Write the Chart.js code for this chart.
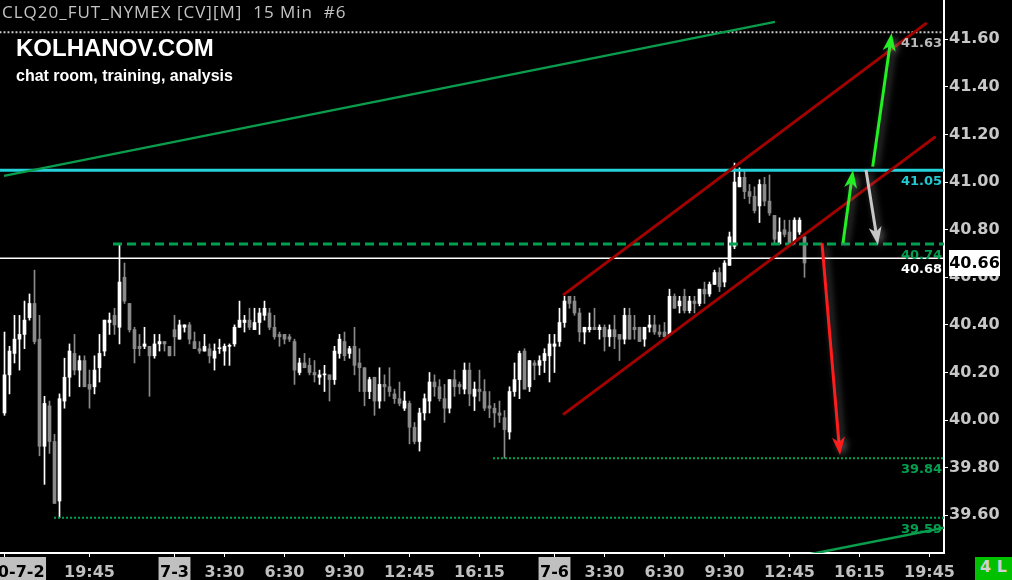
<!DOCTYPE html>
<html>
<head>
<meta charset="utf-8">
<script src="https://cdn.jsdelivr.net/npm/chart.js@4.4.0/dist/chart.umd.min.js"></script>
<style>
  html, body { margin: 0; padding: 0; background: #000; }
  #wrap { position: relative; width: 1012px; height: 580px; overflow: hidden; background: #000; }
  #wrap canvas { position: absolute; left: 0; top: 0; }
  .txt { position: absolute; white-space: pre; z-index: 2; }
  #title { left: 2px; top: 0px; color: #c4c4c4; font: 17px "Open Sans", sans-serif; letter-spacing: 1px; }
  #brand { left: 16px; top: 34px; color: #fff; font: bold 24px "Liberation Sans", Arial, sans-serif; }
  #sub { left: 16px; top: 67px; color: #fff; font: bold 16px "Liberation Sans", Arial, sans-serif; }
  #mode { left: 975px; top: 557px; width: 37px; height: 23px; line-height: 24px; text-align: center;
          background: #00c000; color: #d0d0d0; font: bold 16px "DejaVu Sans", sans-serif; }
</style>
</head>
<body>
<div id="wrap">
  <canvas id="chart" width="1012" height="580"></canvas>
  <div class="txt" id="title">CLQ20_FUT_NYMEX [CV][M]  15 Min  #6</div>
  <div class="txt" id="brand">KOLHANOV.COM</div>
  <div class="txt" id="sub">chat room, training, analysis</div>
  <div class="txt" id="mode">4 L</div>
</div>
<script>
// 15 min bars, CL 2020-07-02 15:30 .. 2020-07-06 13:00
const open = [
  40.03,40.19,40.28,40.34,40.36,40.43,40.49,40.34,39.89,40.06,
  39.91,39.66,40.08,40.18,40.28,40.21,40.25,40.15,40.14,40.22,
  40.29,40.41,40.44,40.39,40.60,40.49,40.38,40.31,40.31,40.31,
  40.27,40.32,40.33,40.31,40.38,40.34,40.39,40.40,40.33,40.30,
  40.29,40.30,40.26,40.30,40.29,40.31,40.32,40.39,40.41,40.42,
  40.38,40.41,40.44,40.45,40.39,40.36,40.36,40.35,40.33,40.20,
  40.24,40.23,40.20,40.18,40.19,40.19,40.17,40.28,40.33,40.28,
  40.31,40.24,40.22,40.12,40.18,40.08,40.15,40.14,40.11,40.09,
  40.05,40.07,39.97,39.91,40.03,40.08,40.16,40.14,40.09,40.05,
  40.17,40.15,40.13,40.21,40.10,40.13,40.12,40.06,40.05,40.03,
  40.01,39.95,40.12,40.17,40.29,40.14,40.24,40.23,40.25,40.27,
  40.31,40.33,40.41,40.52,40.50,40.45,40.37,40.38,40.39,40.38,
  40.39,40.35,40.38,40.36,40.34,40.44,40.39,40.39,40.34,40.39,
  40.40,40.37,40.37,40.36,40.52,40.48,40.52,40.46,40.50,40.49,
  40.55,40.53,40.57,40.62,40.58,40.65,40.73,40.98,41.02,40.96,
  40.94,40.90,40.99,40.92,40.86,40.74,40.80,40.79,40.75,40.79,
  40.77
];
const high = [
  40.37,40.31,40.44,40.44,40.50,40.53,40.63,40.44,40.10,40.08,
  39.94,40.11,40.26,40.32,40.36,40.27,40.27,40.21,40.27,40.36,
  40.42,40.45,40.47,40.74,40.66,40.49,40.39,40.36,40.39,40.31,
  40.36,40.36,40.33,40.31,40.44,40.42,40.40,40.41,40.37,40.33,
  40.36,40.32,40.32,40.34,40.32,40.32,40.40,40.50,40.44,40.47,
  40.47,40.47,40.50,40.47,40.44,40.37,40.36,40.36,40.34,40.26,
  40.28,40.26,40.25,40.21,40.23,40.19,40.31,40.36,40.37,40.31,
  40.39,40.30,40.22,40.18,40.18,40.22,40.19,40.22,40.13,40.16,
  40.12,40.08,39.99,40.05,40.11,40.20,40.19,40.17,40.15,40.17,
  40.21,40.16,40.24,40.24,40.16,40.21,40.17,40.12,40.07,40.08,
  40.04,40.14,40.24,40.29,40.30,40.25,40.25,40.27,40.30,40.36,
  40.36,40.47,40.52,40.52,40.52,40.47,40.39,40.45,40.47,40.40,
  40.40,40.40,40.44,40.36,40.47,40.47,40.44,40.39,40.39,40.44,
  40.44,40.40,40.41,40.55,40.53,40.52,40.55,40.52,40.52,40.55,
  40.58,40.58,40.63,40.64,40.67,40.79,41.08,41.06,41.05,40.99,
  40.98,41.01,41.02,41.03,40.86,40.85,40.84,40.84,40.85,40.85,
  40.77
];
const low = [
  40.02,40.11,40.24,40.21,40.30,40.42,40.32,39.85,39.73,39.86,
  39.65,39.59,40.05,40.10,40.19,40.14,40.14,40.05,40.11,40.16,
  40.27,40.36,40.36,40.32,40.49,40.37,40.24,40.27,40.30,40.10,
  40.26,40.29,40.29,40.27,40.27,40.34,40.37,40.32,40.30,40.28,
  40.29,40.24,40.21,40.28,40.23,40.23,40.31,40.39,40.37,40.38,
  40.38,40.36,40.42,40.38,40.34,40.31,40.32,40.33,40.15,40.19,
  40.22,40.19,40.16,40.15,40.12,40.08,40.15,40.26,40.25,40.26,
  40.19,40.12,40.06,40.09,40.02,40.05,40.08,40.10,40.07,40.06,
  40.04,39.90,39.90,39.87,40.00,40.03,40.10,40.08,39.99,40.03,
  40.10,40.11,40.11,40.06,40.04,40.08,40.04,40.01,39.97,39.99,
  39.84,39.92,40.10,40.09,40.13,40.12,40.17,40.19,40.20,40.16,
  40.20,40.31,40.39,40.47,40.44,40.33,40.32,40.37,40.38,40.34,
  40.29,40.31,40.30,40.25,40.32,40.34,40.34,40.33,40.31,40.37,
  40.36,40.35,40.35,40.36,40.47,40.45,40.45,40.45,40.45,40.48,
  40.49,40.52,40.57,40.54,40.56,40.65,40.72,40.98,40.93,40.91,
  40.87,40.83,40.90,40.86,40.74,40.74,40.77,40.74,40.74,40.78,
  40.60
];
const close = [
  40.19,40.29,40.34,40.36,40.42,40.49,40.33,39.89,40.07,39.91,
  39.65,40.09,40.18,40.29,40.21,40.25,40.14,40.13,40.21,40.28,
  40.42,40.42,40.40,40.58,40.50,40.38,40.30,40.30,40.32,40.27,
  40.32,40.33,40.32,40.27,40.35,40.40,40.40,40.34,40.30,40.29,
  40.31,40.27,40.29,40.30,40.31,40.31,40.39,40.42,40.42,40.39,
  40.41,40.45,40.47,40.39,40.35,40.35,40.34,40.34,40.21,40.24,
  40.22,40.20,40.19,40.19,40.19,40.17,40.29,40.34,40.27,40.30,
  40.23,40.22,40.12,40.17,40.08,40.15,40.14,40.12,40.09,40.07,
  40.08,39.97,39.91,40.03,40.09,40.16,40.14,40.09,40.05,40.17,
  40.14,40.14,40.21,40.11,40.13,40.12,40.05,40.05,40.03,40.02,
  39.96,40.12,40.17,40.28,40.13,40.25,40.23,40.25,40.28,40.32,
  40.32,40.41,40.50,40.49,40.45,40.37,40.39,40.39,40.38,40.39,
  40.35,40.38,40.35,40.34,40.44,40.34,40.38,40.33,40.39,40.40,
  40.37,40.36,40.35,40.52,40.47,40.50,40.46,40.50,40.49,40.55,
  40.53,40.57,40.62,40.56,40.66,40.77,41.00,41.02,40.96,40.94,
  40.88,40.99,40.92,40.87,40.76,40.79,40.78,40.74,40.84,40.84,
  40.66
];

// time axis (bar index -> label)
const tickIdx = [0, 17, 34, 44, 56, 68, 81, 95, 110, 120, 132, 144, 157, 171, 185];
const tickText = ['2020-7-2', '19:45', '7-3', '3:30', '6:30', '9:30', '12:45', '16:15',
                  '7-6', '3:30', '6:30', '9:30', '12:45', '16:15', '19:45'];
const yTicks = [39.6, 39.8, 40.0, 40.2, 40.4, 40.6, 40.8, 41.0, 41.2, 41.4, 41.6];

// drawn levels and trend lines (bar index, price)
const levelPrice = [41.63, 41.05, 40.74, 40.68, 39.84, 39.59];
const levelStart = [-1, -1, 21.7, -1, 97.7, 9.9];
const greenTrendA = [[-0.1, 41.026], [154.1, 41.673]];
const greenTrendB = [[160, 39.432], [188, 39.548]];
const channelUpper = [[111.7, 40.525], [184.44, 41.669]];
const channelLower = [[111.7, 40.023], [186.2, 41.191]];
const arrowFrom = [[163.5, 40.744], [167.7, 40.744], [173.64, 41.065], [172.3, 41.051]];
const arrowTo = [[167.1, 39.853], [169.7, 41.051], [177.44, 41.626], [174.7, 40.736]];

// styles
const xMin = -0.9, xMax = 187.9, yMin = 39.4416, yMax = 41.765;
const upColor = '#ffffff', downColor = '#8a8a8a';
const levelColor = ['#c8c8c8', '#25d2da', '#00a050', '#ffffff', '#00a050', '#00a050'];
const levelLabelColor = ['#b8b8b8', '#22c8d0', '#00a050', '#ffffff', '#00a050', '#00a050'];
const levelWidth = [2, 3, 3, 1.5, 2, 2];
const levelDash = [[2, 2], [], [9, 5], [], [2, 2], [2, 2]];
const arrowColor = ['#ff1c1c', '#22f022', '#22f022', '#c8c8c8'];

const candleColor = close.map((c, i) => c >= open[i] ? upColor : downColor);
const pts = arr => arr.map(p => ({ x: p[0], y: p[1] }));

function lineSet(points, color, width, dash) {
  return {
    type: 'line', data: pts(points), borderColor: color, borderWidth: width,
    borderDash: dash || [], pointRadius: 0, fill: false, tension: 0, order: 1
  };
}

const datasets = [
  {
    label: 'wick', data: open.map((o, i) => ({ x: i, y: [low[i], high[i]] })),
    backgroundColor: candleColor, barThickness: 1, grouped: false, order: 6
  },
  {
    label: 'body', data: open.map((o, i) => ({ x: i, y: [Math.min(o, close[i]), Math.max(o, close[i])] })),
    backgroundColor: candleColor, barThickness: 3, minBarLength: 1, grouped: false, order: 5
  },
  lineSet(greenTrendA, '#0a9d4c', 2.5),
  lineSet(greenTrendB, '#0a9d4c', 2.5),
  lineSet(channelUpper, '#a30000', 3),
  lineSet(channelLower, '#a30000', 3)
];
levelPrice.forEach((v, k) => {
  datasets.push(lineSet([[levelStart[k], v], [xMax + 2, v]], levelColor[k], levelWidth[k], levelDash[k]));
});

function drawArrow(ctx, x1, y1, x2, y2, color) {
  const a = Math.atan2(y2 - y1, x2 - x1);
  const head = 18, half = 6.5, notch = 5;
  const c = Math.cos(a), s = Math.sin(a);
  const bx = x2 - head * c, by = y2 - head * s;
  ctx.save();
  ctx.shadowColor = 'rgba(170,170,170,0.55)';
  ctx.shadowBlur = 7;
  ctx.shadowOffsetX = 3;
  ctx.shadowOffsetY = 2;
  ctx.strokeStyle = color;
  ctx.fillStyle = color;
  ctx.lineWidth = 3;
  ctx.beginPath();
  ctx.moveTo(x1, y1);
  ctx.lineTo(bx + notch * c, by + notch * s);
  ctx.stroke();
  ctx.beginPath();
  ctx.moveTo(x2, y2);
  ctx.lineTo(bx - half * s, by + half * c);
  ctx.lineTo(bx + notch * c, by + notch * s);
  ctx.lineTo(bx + half * s, by - half * c);
  ctx.closePath();
  ctx.fill();
  ctx.restore();
}

const overlay = {
  id: 'overlay',
  afterDraw(chart) {
    const { ctx, chartArea: area } = chart;
    const x = chart.scales.x, y = chart.scales.y;
    ctx.save();

    // level labels
    ctx.font = 'bold 13px "DejaVu Sans"';
    ctx.textAlign = 'right';
    ctx.textBaseline = 'middle';
    levelPrice.forEach((v, k) => {
      ctx.fillStyle = levelLabelColor[k];
      ctx.fillText(v.toFixed(2), area.right - 2, y.getPixelForValue(v) + 11.5);
    });

    // arrows
    arrowFrom.forEach((p, k) => {
      drawArrow(ctx, x.getPixelForValue(p[0]), y.getPixelForValue(p[1]),
        x.getPixelForValue(arrowTo[k][0]), y.getPixelForValue(arrowTo[k][1]), arrowColor[k]);
    });

    // time axis ticks and labels
    ctx.font = 'bold 16px "DejaVu Sans"';
    ctx.textAlign = 'center';
    ctx.textBaseline = 'alphabetic';
    tickIdx.forEach((t, k) => {
      const px = x.getPixelForValue(t);
      ctx.strokeStyle = '#ffffff';
      ctx.lineWidth = 1;
      ctx.beginPath();
      ctx.moveTo(px, area.bottom);
      ctx.lineTo(px, area.bottom + 4);
      ctx.stroke();
      const label = tickText[k];
      if (label.includes('-')) {
        const w = ctx.measureText(label).width;
        ctx.fillStyle = '#c0c0c0';
        ctx.fillRect(px - w / 2 - 1.5, area.bottom + 4, w + 3, 23);
        ctx.fillStyle = '#000000';
      } else {
        ctx.fillStyle = '#c0c0c0';
      }
      ctx.fillText(label, px, area.bottom + 24);
    });

    // last price box
    const last = close[close.length - 1];
    const py = y.getPixelForValue(last);
    ctx.fillStyle = '#ffffff';
    ctx.fillRect(area.right + 5, py - 13, 51, 26);
    ctx.fillStyle = '#000000';
    ctx.textBaseline = 'middle';
    ctx.fillText(last.toFixed(2), area.right + 30.5, py + 1);

    ctx.restore();
  }
};

new Chart(document.getElementById('chart'), {
  type: 'bar',
  data: { datasets },
  options: {
    responsive: false,
    animation: false,
    layout: { padding: 0 },
    plugins: { legend: { display: false }, tooltip: { enabled: false } },
    scales: {
      x: {
        type: 'linear', min: xMin, max: xMax, offset: false,
        grid: { display: false },
        ticks: { display: false },
        border: { display: true, color: '#ffffff', width: 2 },
        afterFit: s => { s.height = 27; s.paddingLeft = 0; s.paddingRight = 0; }
      },
      y: {
        position: 'right', min: yMin, max: yMax, beginAtZero: false,
        afterBuildTicks: s => { s.ticks = yTicks.map(v => ({ value: v })); },
        afterFit: s => { s.width = 68; s.paddingTop = 0; s.paddingBottom = 0; },
        grid: { drawOnChartArea: false, drawTicks: true, tickLength: 4, color: '#ffffff', lineWidth: 1 },
        border: { display: true, color: '#ffffff', width: 2 },
        ticks: {
          color: '#c8c8c8', padding: 1, autoSkip: false,
          font: { family: 'DejaVu Sans', size: 16, weight: 'bold' },
          callback: v => Number(v).toFixed(2)
        }
      }
    }
  },
  plugins: [overlay]
});
</script>
</body>
</html>
